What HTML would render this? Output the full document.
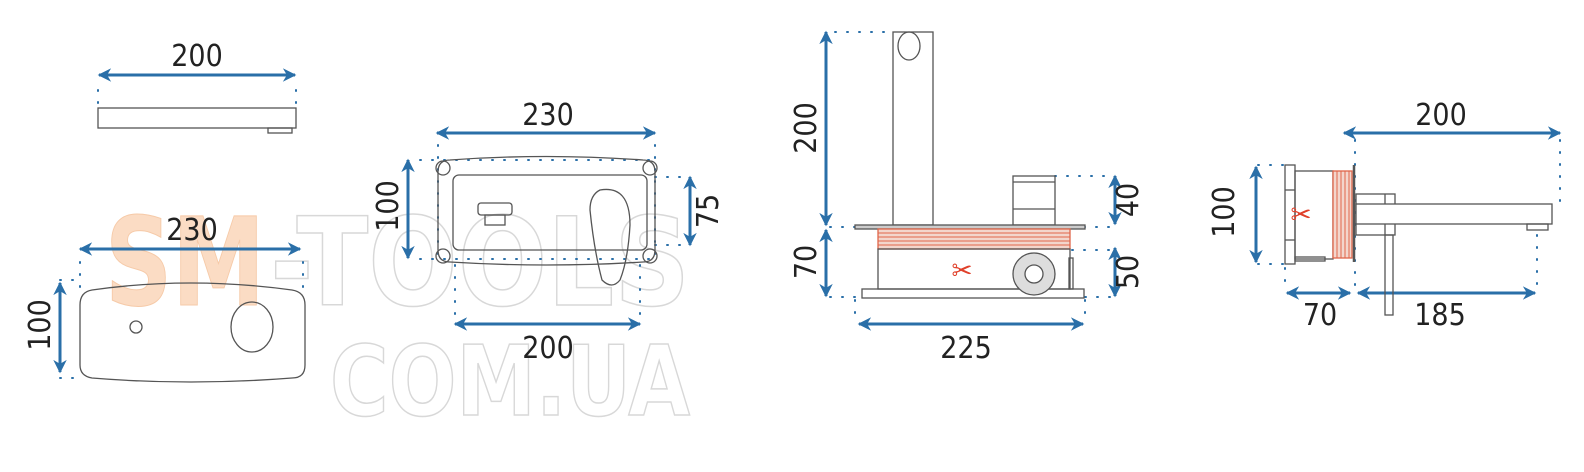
<!DOCTYPE html>
<html><head><meta charset="utf-8"><style>
html,body{margin:0;padding:0;background:#fff;}
svg{display:block;}
text{font-family:"DejaVu Sans Condensed","Liberation Sans",sans-serif;}
</style></head><body>
<svg width="1584" height="472" viewBox="0 0 1584 472" xmlns="http://www.w3.org/2000/svg">
<defs>
<marker id="a" viewBox="0 0 10 10" refX="9" refY="5" markerWidth="6" markerHeight="4.5" orient="auto-start-reverse" markerUnits="strokeWidth"><path d="M0,0 L10,5 L0,10 L3,5 z" fill="#2a6fa8"/></marker>
<pattern id="thr" width="4" height="4" patternUnits="userSpaceOnUse"><rect width="4" height="4" fill="#f3d6cc"/><line x1="0" y1="1" x2="4" y2="1" stroke="#e0664a" stroke-width="1"/></pattern>
<pattern id="thrv" width="4" height="4" patternUnits="userSpaceOnUse"><rect width="4" height="4" fill="#f3d6cc"/><line x1="1" y1="0" x2="1" y2="4" stroke="#e0664a" stroke-width="1"/></pattern>
</defs>
<!-- watermark -->
<g font-family="Liberation Sans, sans-serif" font-weight="bold">
<text x="105" y="305" font-size="122" textLength="160" lengthAdjust="spacingAndGlyphs" fill="#fbdcc4" stroke="#f6caa8" stroke-width="1">SM</text>
<text x="270" y="305" font-size="122" textLength="420" lengthAdjust="spacingAndGlyphs" fill="none" stroke="#d8d8d8" stroke-width="1.5">-TOOLS</text>
<text x="330" y="415" font-size="97" textLength="360" lengthAdjust="spacingAndGlyphs" fill="none" stroke="#d8d8d8" stroke-width="1.5">COM.UA</text>
</g>
<g stroke="#2a6fa8" stroke-width="3" fill="none" marker-start="url(#a)" marker-end="url(#a)">
<line x1="99" y1="75" x2="295" y2="75"/>
<line x1="80" y1="249" x2="300" y2="249"/>
<line x1="60" y1="283" x2="60" y2="372"/>
<line x1="437" y1="133" x2="655" y2="133"/>
<line x1="408" y1="160" x2="408" y2="258"/>
<line x1="690" y1="177" x2="690" y2="245"/>
<line x1="455" y1="324" x2="640" y2="324"/>
<line x1="826" y1="32" x2="826" y2="225"/>
<line x1="826" y1="230" x2="826" y2="296"/>
<line x1="1115" y1="176" x2="1115" y2="224"/>
<line x1="1115" y1="248" x2="1115" y2="296"/>
<line x1="859" y1="324" x2="1083" y2="324"/>
<line x1="1344" y1="133" x2="1560" y2="133"/>
<line x1="1256" y1="167" x2="1256" y2="262"/>
<line x1="1287" y1="293" x2="1350" y2="293"/>
<line x1="1358" y1="293" x2="1535" y2="293"/>
</g>
<g stroke="#2a6fa8" stroke-width="2" stroke-dasharray="1 11" stroke-linecap="round" fill="none">
<line x1="98" y1="90" x2="98" y2="110"/><line x1="296" y1="90" x2="296" y2="110"/>
<line x1="438" y1="145" x2="438" y2="265"/><line x1="655" y1="145" x2="655" y2="265"/>
<line x1="420" y1="160" x2="655" y2="160"/><line x1="420" y1="259" x2="655" y2="259"/>
<line x1="455" y1="265" x2="455" y2="320"/><line x1="640" y1="265" x2="640" y2="320"/>
<line x1="655" y1="177" x2="690" y2="177"/><line x1="655" y1="245" x2="690" y2="245"/>
<line x1="80" y1="262" x2="80" y2="290"/><line x1="303" y1="262" x2="303" y2="290"/>
<line x1="60" y1="280" x2="80" y2="280"/><line x1="60" y1="378" x2="80" y2="378"/>
<line x1="835" y1="32" x2="895" y2="32"/>
<line x1="830" y1="227" x2="855" y2="227"/><line x1="1060" y1="227" x2="1110" y2="227"/>
<line x1="1055" y1="176" x2="1110" y2="176"/><line x1="1072" y1="250" x2="1110" y2="250"/>
<line x1="830" y1="297" x2="855" y2="297"/><line x1="1085" y1="297" x2="1110" y2="297"/>
<line x1="855" y1="300" x2="855" y2="320"/><line x1="1085" y1="300" x2="1085" y2="320"/>
<line x1="1258" y1="165" x2="1285" y2="165"/><line x1="1258" y1="264" x2="1285" y2="264"/>
<line x1="1355" y1="140" x2="1355" y2="290"/><line x1="1285" y1="268" x2="1285" y2="290"/>
<line x1="1560" y1="140" x2="1560" y2="210"/><line x1="1537" y1="235" x2="1537" y2="288"/>
</g>
<g fill="#222" font-size="30" text-anchor="middle">
<text x="197" y="66">200</text>
<text x="192" y="240">230</text>
<text x="548" y="125">230</text>
<text x="548" y="358">200</text>
<text x="966" y="358">225</text>
<text x="1441" y="125">200</text>
<text x="1320" y="325">70</text>
<text x="1440" y="325">185</text>
<text transform="translate(50,325) rotate(-90)">100</text>
<text transform="translate(398,206) rotate(-90)">100</text>
<text transform="translate(718,211) rotate(-90)">75</text>
<text transform="translate(816,128) rotate(-90)">200</text>
<text transform="translate(816,262) rotate(-90)">70</text>
<text transform="translate(1138,200) rotate(-90)">40</text>
<text transform="translate(1138,272) rotate(-90)">50</text>
<text transform="translate(1234,212) rotate(-90)">100</text>
</g>
<g stroke="#555" stroke-width="1.3" fill="none">
<rect x="98" y="108" width="198" height="20"/>
<rect x="268" y="128" width="24" height="5"/>
<path d="M92,290 Q190,276 292,290 Q305,292 305,305 L305,365 Q305,378 292,378 Q190,386 92,378 Q80,376 80,365 L80,305 Q80,292 92,290 z"/>
<circle cx="136" cy="327" r="6"/>
<ellipse cx="252" cy="327" rx="21" ry="25"/>
<path d="M450,160 Q546,153 643,160 Q655,160 655,172 L655,250 Q655,262 643,262 Q546,268 450,262 Q438,262 438,250 L438,172 Q438,160 450,160 z"/>
<rect x="453" y="175" width="194" height="75" rx="6"/>
<circle cx="443" cy="168" r="7"/><circle cx="650" cy="168" r="7"/><circle cx="443" cy="256" r="7"/><circle cx="650" cy="256" r="7"/>
<rect x="478" y="203" width="34" height="12" rx="3"/><rect x="485" y="215" width="20" height="10"/>
<path d="M600,190 Q630,185 630,225 Q628,260 620,280 Q612,290 602,280 Q594,250 590,210 Q590,195 600,190 z"/>
<rect x="893" y="32" width="40" height="193"/>
<ellipse cx="909" cy="46" rx="11" ry="14"/>
<rect x="1013" y="176" width="42" height="49"/><line x1="1013" y1="182" x2="1055" y2="182"/><line x1="1013" y1="209" x2="1055" y2="209"/>
<rect x="855" y="225" width="230" height="4" fill="#ccc"/>
<rect x="878" y="229" width="192" height="20" fill="url(#thr)" stroke="#e0664a"/>
<rect x="878" y="249" width="192" height="40"/>
<rect x="1069" y="258" width="4" height="31"/>
<rect x="862" y="289" width="222" height="9"/>
<circle cx="1034" cy="274" r="21" fill="#ddd"/><circle cx="1034" cy="274" r="9" fill="#fff"/>
<rect x="1285" y="165" width="10" height="99"/>
<line x1="1285" y1="190" x2="1295" y2="190"/><line x1="1285" y1="240" x2="1295" y2="240"/>
<rect x="1295" y="171" width="38" height="88"/>
<rect x="1295" y="257" width="30" height="4"/>
<rect x="1333" y="171" width="19" height="87" fill="url(#thrv)" stroke="#e0664a"/>
<line x1="1354" y1="165" x2="1354" y2="262" stroke-width="2.5"/>
<rect x="1356" y="194" width="39" height="41"/><line x1="1385" y1="194" x2="1385" y2="235"/>
<rect x="1356" y="204" width="196" height="20" fill="#fff"/>
<rect x="1527" y="224" width="21" height="6"/>
<rect x="1385" y="235" width="8" height="80"/>
</g>
<g fill="#e0402a" font-size="28" text-anchor="middle">
<text x="962" y="280">✂</text>
<text x="1301" y="224">✂</text>
</g>
</svg>
</body></html>
